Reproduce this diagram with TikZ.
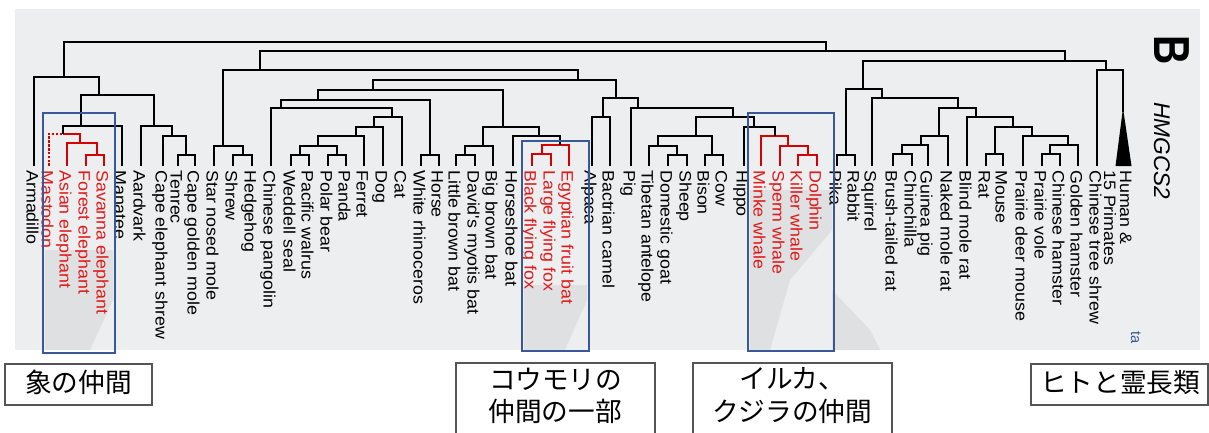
\documentclass[tikz,border=0pt]{standalone}
\usepackage{fontspec}
\setmainfont{Liberation Sans}
\newfontfamily\leaffont[FakeStretch=1.08]{Liberation Sans}
\newfontfamily\jpfont{Noto Sans CJK JP}
\definecolor{cred}{RGB}{225,25,25}
\definecolor{lred}{RGB}{215,0,0}
\definecolor{cblue}{RGB}{58,88,150}
\definecolor{scan}{RGB}{236,238,239}
\definecolor{scanshade}{RGB}{222,224,225}
\definecolor{jgray}{RGB}{85,85,85}
\newcommand\leafnode[4][lab]{\coordinate (#2) at (#3,166); \node[#1] (#2-t) at (#3-7.5,170) {#4};}
\newcommand\brk[6][tree]{\coordinate (#2) at (#3,#4); \draw[#1] (#5) |- (#2) -| (#6);}
\begin{document}
\begin{tikzpicture}[x=0.75pt,y=-0.75pt,
 tree/.style={line width=1.9pt},
 redtree/.style={tree, draw=lred},
 lab/.style={rotate=-90, anchor=base west, inner sep=0pt, font=\leaffont\fontsize{12.4}{13}\selectfont},
 redlab/.style={lab, text=cred},
 hbox/.style={draw=cblue, line width=1.5pt},
 jp/.style={font=\jpfont\fontsize{20}{24}\selectfont, inner sep=0pt},
 jbox/.style={draw=jgray, line width=0.8pt}
]
\useasboundingbox (0,0) rectangle (1209,432);
\fill[white] (0,0) rectangle (1209,432);
\fill[scan] (15,9) rectangle (1200,350);
% scan shadows
\fill[scanshade] (45,250) -- (113,250) -- (113,300) -- (90,350) -- (45,350) -- cycle;
\fill[scanshade] (524,285) -- (587,285) -- (587,300) -- (565,350) -- (524,350) -- cycle;
\fill[scanshade] (750,190) -- (832,190) -- (832,230) -- (790,280) -- (770,350) -- (750,350) -- cycle;
\fill[scanshade] (832,290) -- (870,330) -- (880,350) -- (832,350) -- cycle;

% leaves
\leafnode{arm}{34}{Armadillo}
\leafnode[redlab]{mas}{49}{Mastodon}
\leafnode[redlab]{asi}{67}{Asian elephant}
\leafnode[redlab]{for}{86}{Forest elephant}
\leafnode[redlab]{sav}{104}{Savanna elephant}
\leafnode{man}{122}{Manatee}
\leafnode{aar}{141}{Aardvark}
\leafnode{ces}{163}{Cape elephant shrew}
\leafnode{ten}{178}{Tenrec}
\leafnode{cgm}{195}{Cape golden mole}
\leafnode{snm}{214}{Star nosed mole}
\leafnode{shr}{233}{Shrew}
\leafnode{hed}{252}{Hedgehog}
\leafnode{pan}{271}{Chinese pangolin}
\leafnode{wed}{291}{Weddell seal}
\leafnode{wal}{309}{Pacific walrus}
\leafnode{pol}{328}{Polar bear}
\leafnode{pnd}{346}{Panda}
\leafnode{fer}{364}{Ferret}
\leafnode{dog}{383}{Dog}
\leafnode{cat}{402}{Cat}
\leafnode{rhi}{421}{White rhinoceros}
\leafnode{hor}{439}{Horse}
\leafnode{lbb}{456}{Little brown bat}
\leafnode{dmb}{475}{David's myotis bat}
\leafnode{bbb}{493}{Big brown bat}
\leafnode{hsb}{513}{Horseshoe bat}
\leafnode[redlab]{bff}{532}{Black flying fox}
\leafnode[redlab]{lff}{551}{Large flying fox}
\leafnode[redlab]{efb}{569}{Egyptian fruit bat}
\leafnode{alp}{592}{Alpaca}
\leafnode{bac}{610}{Bactrian camel}
\leafnode{pig}{631}{Pig}
\leafnode{tib}{649}{Tibetan antelope}
\leafnode{goa}{668}{Domestic goat}
\leafnode{she}{687}{Sheep}
\leafnode{bis}{705}{Bison}
\leafnode{cow}{723}{Cow}
\leafnode{hip}{744}{Hippo}
\leafnode[redlab]{mwh}{761}{Minke whale}
\leafnode[redlab]{swh}{780}{Sperm whale}
\leafnode[redlab]{kwh}{798}{Killer whale}
\leafnode[redlab]{dol}{817}{Dolphin}
\leafnode{pik}{837}{Pika}
\leafnode{rab}{855}{Rabbit}
\leafnode{squ}{872}{Squirrel}
\leafnode{btr}{893}{Brush-tailed rat}
\leafnode{chn}{912}{Chinchilla}
\leafnode{gpg}{928}{Guinea pig}
\leafnode{nmr}{948}{Naked mole rat}
\leafnode{bmr}{967}{Blind mole rat}
\leafnode{rat}{986}{Rat}
\leafnode{mou}{1003}{Mouse}
\leafnode{pdm}{1023}{Prairie deer mouse}
\leafnode{pvo}{1042}{Prairie vole}
\leafnode{chh}{1060}{Chinese hamster}
\leafnode{gha}{1078}{Golden hamster}
\leafnode{tsh}{1097}{Chinese tree shrew}
\node[lab] (pri-t1) at (1127-7,170) {Human \&};
\node[lab] (pri-t2) at (1111-7,170) {15 Primates};

% Afrotheria + Xenarthra
\brk[redtree]{nel3}{97}{155}{for}{sav}
\brk[redtree]{nel2}{80}{143}{asi}{nel3}
\coordinate (nele) at (63,134);
\draw[redtree, densely dotted] (mas) |- (nele);
\draw[redtree] (nele) -| (nel2);
\brk{npae}{81}{126}{nele}{man}
\brk{naf3}{186}{155}{ten}{cgm}
\brk{naf2}{172}{136}{ces}{naf3}
\brk{nafi}{154}{126}{aar}{naf2}
\brk{nafr}{99}{95}{npae}{nafi}
\brk{nafx}{64}{77}{arm}{nafr}
% Laurasiatheria
\brk{neu2}{243}{155}{shr}{hed}
\brk{neul}{223}{146}{snm}{neu2}
\brk{npin}{300}{155}{wed}{wal}
\brk{nurs}{337}{155}{pol}{pnd}
\brk{nca4}{318}{146}{npin}{nurs}
\brk{nca3}{356}{136}{nca4}{fer}
\brk{nca2}{374}{127}{nca3}{dog}
\brk{ncar}{392}{117}{nca2}{cat}
\brk{nfpa}{281}{108}{pan}{ncar}
\brk{nper}{430}{155}{rhi}{hor}
\brk{nzoo}{318}{100}{nfpa}{nper}
\brk{nve2}{465}{155}{lbb}{dmb}
\brk{nves}{483}{146}{nve2}{bbb}
\brk[redtree]{npt2}{542}{154}{bff}{lff}
\brk[redtree]{npte}{560}{145}{npt2}{efb}
\brk{nch2}{539}{136}{hsb}{npte}
\brk{nchi}{503}{127}{nves}{nch2}
\brk{nfer}{373}{90}{nzoo}{nchi}
\brk{ncam}{603}{117}{alp}{bac}
\brk{ncap}{677}{155}{goa}{she}
\brk{nru2}{658}{146}{tib}{ncap}
\brk{nbov}{712}{155}{bis}{cow}
\brk{nrum}{696}{136}{nru2}{nbov}
\brk[redtree]{nce4}{808}{155}{kwh}{dol}
\brk[redtree]{nce3}{788}{146}{swh}{nce4}
\brk[redtree]{nce2}{775}{136}{mwh}{nce3}
\brk{nwhi}{754}{127}{hip}{nce2}
\brk{nar3}{733}{117}{nrum}{nwhi}
\brk{nar2}{638}{108}{pig}{nar3}
\brk{ncet}{616}{98}{ncam}{nar2}
\brk{nsco}{578}{80}{nfer}{ncet}
\brk{nlau}{260}{70}{neul}{nsco}
% Euarchontoglires
\brk{nlag}{846}{155}{pik}{rab}
\brk{nhy3}{902}{154}{btr}{chn}
\brk{nhy2}{921}{145}{nhy3}{gpg}
\brk{nhys}{939}{136}{nhy2}{nmr}
\brk{nmu3}{995}{154}{rat}{mou}
\brk{ncr2}{1050}{154}{pvo}{chh}
\brk{ncri}{1068}{145}{ncr2}{gha}
\brk{nmu4}{1032}{136}{pdm}{ncri}
\brk{nmu2}{1013}{127}{nmu3}{nmu4}
\brk{nmur}{976}{117}{bmr}{nmu2}
\brk{nro2}{958}{108}{nhys}{nmur}
\brk{nrod}{882}{98}{squ}{nro2}
\brk{ngli}{863}{89}{nlag}{nrod}
\coordinate (pri) at (1123,112);
\fill (1123,108) -- (1131.5,166) -- (1115.5,166) -- cycle;
\brk{near}{1106}{70}{tsh}{pri}
\brk{neua}{1065}{61}{ngli}{near}
\brk{nbor}{826}{51}{nlau}{neua}
\coordinate (nroot) at (400,42);
\draw[tree] (nafx) |- (nroot) -| (nbor);

% title letters
\node[rotate=-90, inner sep=0pt, font=\fontsize{38}{38}\selectfont\bfseries] (B) at (1172,50) {\scalebox{0.8}[1]{B}};
\node[lab, font=\fontsize{17}{17}\selectfont\itshape] (gene) at (1154,102) {HMGCS2};
\node[lab, text=cblue, font=\fontsize{11}{11}\selectfont] (ta) at (1131,331) {ta};

% highlight boxes
\draw[hbox] (43,113) rectangle (115,353);
\draw[hbox] (522,141) rectangle (589,351);
\draw[hbox] (748,113) rectangle (834,351);

% Japanese labels
\draw[jbox] (5,364) rectangle (152,405);
\node[jp] (l1) at (78.5,382) {象の仲間};
\draw[jbox] (456,433) -- (456,363) -- (655,363) -- (655,433);
\node[jp] (l2a) at (556,379) {コウモリの};
\node[jp] (l2b) at (555,411) {仲間の一部};
\draw[jbox] (693,433) -- (693,363) -- (892,363) -- (892,433);
\node[jp] (l3a) at (792,379) {イルカ、};
\node[jp] (l3b) at (792,411) {クジラの仲間};
\draw[jbox] (1031,364) rectangle (1208,405);
\node[jp] (l4) at (1120,383) {ヒトと霊長類};
\end{tikzpicture}
\end{document}
